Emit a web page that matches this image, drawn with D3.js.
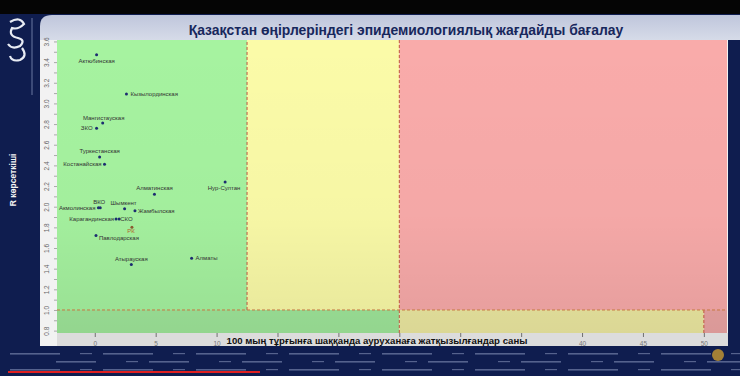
<!DOCTYPE html>
<html>
<head>
<meta charset="utf-8">
<script src="https://cdn.jsdelivr.net/npm/d3@7"></script>
<style>
  html, body { margin: 0; padding: 0; background: #0d1a45; }
  svg { display: block; }
</style>
</head>
<body>
<svg id="chart" width="740" height="376"></svg>
<script>
// Region names, hospitalisations per 100k (x) and R value (y)
var regions = ['Актюбинская', 'Кызылординская', 'Мангистауская', 'ЗКО', 'Туркестанская',
  'Костанайская', 'Нур-Султан', 'Алматинская', 'ВКО', 'Акмолинская', 'Шымкент',
  'Жамбылская', 'Карагандинская', 'СКО', 'РК', 'Павлодарская', 'Атырауская', 'Алматы'];
var hospValues = [0.15, 2.6, 0.65, 0.15, 0.4, 0.8, 10.7, 4.9, 0.45, 0.3, 2.45, 3.3, 1.75, 2.0, 3.05, 0.1, 3.0, 7.95];
var rValues = [3.47, 3.09, 2.81, 2.76, 2.48, 2.41, 2.24, 2.12, 1.99, 1.99, 1.98, 1.96, 1.88, 1.88, 1.80, 1.72, 1.44, 1.50];

var xTicks = [0, 5, 10, 15, 20, 25, 30, 35, 40, 45, 50];
var xTickLabels = ['0', '5', '10', '', '', '', '', '', '40', '45', '50'];
var yTicks = [0.8, 1.0, 1.2, 1.4, 1.6, 1.8, 2.0, 2.2, 2.4, 2.6, 2.8, 3.0, 3.2, 3.4, 3.6];

// zone thresholds
var xGreen = 12.5, xYellow = 25, xRedLow = 50, rLimit = 1.0;

var titleText = 'Қазақстан өңірлеріндегі эпидемиологиялық жағдайды бағалау';
var xTitle = '100 мың тұрғынға шаққанда ауруханаға жатқызылғандар саны';
var yTitle = 'R көрсеткіші';

var svg = d3.select('#chart');
var W = 740, H = 376;
var plot = {left: 57, right: 727, top: 40, bottom: 333};

var x = d3.scaleLinear().domain([-3.1, 51.9]).range([plot.left, plot.right]);
var y = d3.scaleLinear().domain([0.777, 3.614]).range([plot.bottom, plot.top]);

var defs = svg.append('defs');
var tbg = defs.append('linearGradient').attr('id', 'tbar').attr('x1', 0).attr('x2', 0).attr('y1', 0).attr('y2', 1);
tbg.append('stop').attr('offset', '0%').attr('stop-color', '#bfc6dc');
tbg.append('stop').attr('offset', '100%').attr('stop-color', '#d6dbe8');
var shade = defs.append('linearGradient').attr('id', 'shade').attr('x1', 0).attr('x2', 0).attr('y1', 0).attr('y2', 1);
shade.append('stop').attr('offset', '0%').attr('stop-color', '#000').attr('stop-opacity', 0);
shade.append('stop').attr('offset', '60%').attr('stop-color', '#000').attr('stop-opacity', 0.02);
shade.append('stop').attr('offset', '100%').attr('stop-color', '#000').attr('stop-opacity', 0.08);

// background frame
svg.append('rect').attr('width', W).attr('height', H).attr('fill', '#0f1d4f');
svg.append('rect').attr('width', W).attr('height', 14).attr('fill', '#050505');
svg.append('path')
  .attr('d', 'M40,40 L40,26 Q40,15 52,15 L740,15 L740,40 Z')
  .attr('fill', 'url(#tbar)');
svg.append('line').attr('x1', 32).attr('x2', 32).attr('y1', 18).attr('y2', 95)
  .attr('stroke', '#8090b8').attr('stroke-width', 0.8);

// logo (rough)
var logo = svg.append('g').attr('fill', 'none').attr('stroke', '#e8ecf4').attr('stroke-width', 2.2);
logo.append('path').attr('d', 'M10,22 Q20,16 24,24 Q18,30 12,28 Q8,36 18,38 Q26,40 20,46 Q12,50 8,44');
logo.append('path').attr('d', 'M22,48 Q28,56 20,60 Q12,62 10,56');

// chart panel
svg.append('rect').attr('x', 40).attr('y', 40).attr('width', 688).attr('height', 306).attr('fill', '#f2f2f2');
svg.append('rect').attr('x', plot.left).attr('y', plot.bottom).attr('width', 671).attr('height', 13).attr('fill', '#dcdcdc');

// title
svg.append('text')
  .attr('x', 406).attr('y', 35)
  .attr('text-anchor', 'middle')
  .attr('font-family', 'Liberation Sans, Arial, sans-serif')
  .attr('font-weight', 'bold')
  .attr('font-size', 13.9)
  .attr('fill', '#17275c')
  .text(titleText);

// zones
var zones = [
  {x0: x.domain()[0], x1: xGreen, y0: rLimit, y1: y.domain()[1], c: '#a6f3a0'},
  {x0: xGreen, x1: xYellow, y0: rLimit, y1: y.domain()[1], c: '#fbfba8'},
  {x0: xYellow, x1: x.domain()[1], y0: rLimit, y1: y.domain()[1], c: '#f9abaa'},
  {x0: x.domain()[0], x1: xYellow, y0: y.domain()[0], y1: rLimit, c: '#a0e89b'},
  {x0: xYellow, x1: xRedLow, y0: y.domain()[0], y1: rLimit, c: '#eeeaa2'},
  {x0: xRedLow, x1: x.domain()[1], y0: y.domain()[0], y1: rLimit, c: '#eda6a5'}
];
svg.append('g').selectAll('rect').data(zones).join('rect')
  .attr('x', d => x(d.x0)).attr('width', d => x(d.x1) - x(d.x0))
  .attr('y', d => y(d.y1)).attr('height', d => y(d.y0) - y(d.y1))
  .attr('fill', d => d.c);
svg.append('rect').attr('x', plot.left).attr('y', plot.top)
  .attr('width', plot.right - plot.left).attr('height', plot.bottom - plot.top)
  .attr('fill', 'url(#shade)');

// dashed boundaries
var dash = svg.append('g').attr('stroke', '#c0553e').attr('stroke-width', 1)
  .attr('stroke-dasharray', '3,2').attr('fill', 'none');
dash.append('line').attr('x1', x(xGreen)).attr('x2', x(xGreen)).attr('y1', y(rLimit)).attr('y2', plot.top);
dash.append('line').attr('x1', x(xYellow)).attr('x2', x(xYellow)).attr('y1', plot.bottom).attr('y2', plot.top);
dash.append('line').attr('x1', x(xRedLow)).attr('x2', x(xRedLow)).attr('y1', plot.bottom).attr('y2', y(rLimit));
dash.append('line').attr('x1', plot.left).attr('x2', plot.right).attr('y1', y(rLimit)).attr('y2', y(rLimit))
  .attr('stroke', '#c87840');

// y axis (rotated labels, minor ticks every 0.1)
var yAxis = d3.axisLeft(y).tickValues(d3.range(0.8, 3.65, 0.1)).tickSize(3)
  .tickFormat(d => (Math.round(d * 10) % 2 === 0) ? d3.format('.1f')(d) : '');
var gy = svg.append('g').attr('transform', 'translate(' + plot.left + ',0)').call(yAxis);
gy.select('.domain').remove();
gy.selectAll('.tick line').attr('stroke', '#777').attr('stroke-width', 0.6);
gy.selectAll('.tick text')
  .attr('font-family', 'Liberation Sans, Arial, sans-serif').attr('font-size', 6.5).attr('fill', '#666')
  .attr('x', 0).attr('dy', 0)
  .attr('text-anchor', 'middle')
  .attr('transform', 'translate(-8,0) rotate(-90)');

// x axis
var xAxis = d3.axisBottom(x).tickValues(xTicks).tickSize(4)
  .tickFormat((d, i) => xTickLabels[i]);
var gx = svg.append('g').attr('transform', 'translate(0,' + plot.bottom + ')').call(xAxis);
gx.select('.domain').remove();
gx.selectAll('.tick line').attr('stroke', '#555').attr('stroke-width', 0.8);
gx.selectAll('.tick text')
  .attr('font-family', 'Liberation Sans, Arial, sans-serif').attr('font-size', 6.5).attr('fill', '#777')
  .attr('y', 8);

svg.append('text')
  .attr('x', 377).attr('y', 344)
  .attr('text-anchor', 'middle')
  .attr('font-family', 'Liberation Sans, Arial, sans-serif')
  .attr('font-weight', 'bold').attr('font-size', 9.6).attr('fill', '#111')
  .text(xTitle);

svg.append('text')
  .attr('transform', 'translate(16,180) rotate(-90)')
  .attr('text-anchor', 'middle')
  .attr('font-family', 'Liberation Sans, Arial, sans-serif')
  .attr('font-weight', 'bold').attr('font-size', 8.5).attr('fill', '#f4f4f4')
  .text(yTitle);

// points + labels
var labelPos = {
  'Актюбинская': [0, 8, 'middle'], 'Кызылординская': [4, 2, 'start'], 'Мангистауская': [1, -3, 'middle'],
  'ЗКО': [-4, 2, 'end'], 'Туркестанская': [0, -4, 'middle'], 'Костанайская': [-3, 2, 'end'],
  'Нур-Султан': [-1, 8, 'middle'], 'Алматинская': [0, -4, 'middle'], 'ВКО': [-1, -4, 'middle'],
  'Акмолинская': [-3, 2, 'end'], 'Шымкент': [-1, -4, 'middle'], 'Жамбылская': [3, 2, 'start'],
  'Карагандинская': [-2, 2, 'end'], 'СКО': [1, 2, 'start'], 'РК': [-1, 5.5, 'middle'],
  'Павлодарская': [3, 4.5, 'start'], 'Атырауская': [0, -4, 'middle'], 'Алматы': [4, 2, 'start']
};
var pts = regions.map((n, i) => ({name: n, hx: hospValues[i], r: rValues[i]}));
var gp = svg.append('g');
gp.selectAll('circle').data(pts).join('circle')
  .attr('cx', d => x(d.hx)).attr('cy', d => y(d.r)).attr('r', 1.5)
  .attr('fill', d => d.name === 'РК' ? '#8a5a30' : '#1c2c70');
gp.selectAll('text').data(pts).join('text')
  .attr('x', d => x(d.hx) + labelPos[d.name][0])
  .attr('y', d => y(d.r) + labelPos[d.name][1])
  .attr('text-anchor', d => labelPos[d.name][2])
  .attr('font-family', 'Liberation Sans, Arial, sans-serif').attr('font-size', 6)
  .attr('fill', d => d.name === 'РК' ? '#b0662a' : '#333')
  .text(d => d.name);

// bottom ticker band (decorative blocks)
var band = svg.append('g').attr('fill', '#9aa6cc').attr('opacity', 0.5);
for (var row = 0; row < 3; row++) {
  for (var k = 0; k < 9; k++) {
    var bx = 10 + k * 93 + (row % 2 ? 46 : 0);
    band.append('rect').attr('x', bx).attr('y', 353 + row * 8).attr('width', row === 1 ? 40 : 50).attr('height', 1.6);
    band.append('rect').attr('x', bx + 70).attr('y', 353 + row * 8).attr('width', 12).attr('height', 1.2);
  }
}
svg.append('rect').attr('x', 8).attr('y', 371).attr('width', 252).attr('height', 2).attr('fill', '#e02020');
svg.append('circle').attr('cx', 718).attr('cy', 355).attr('r', 6).attr('fill', '#c89a30').attr('opacity', 0.8);
</script>
</body>
</html>
